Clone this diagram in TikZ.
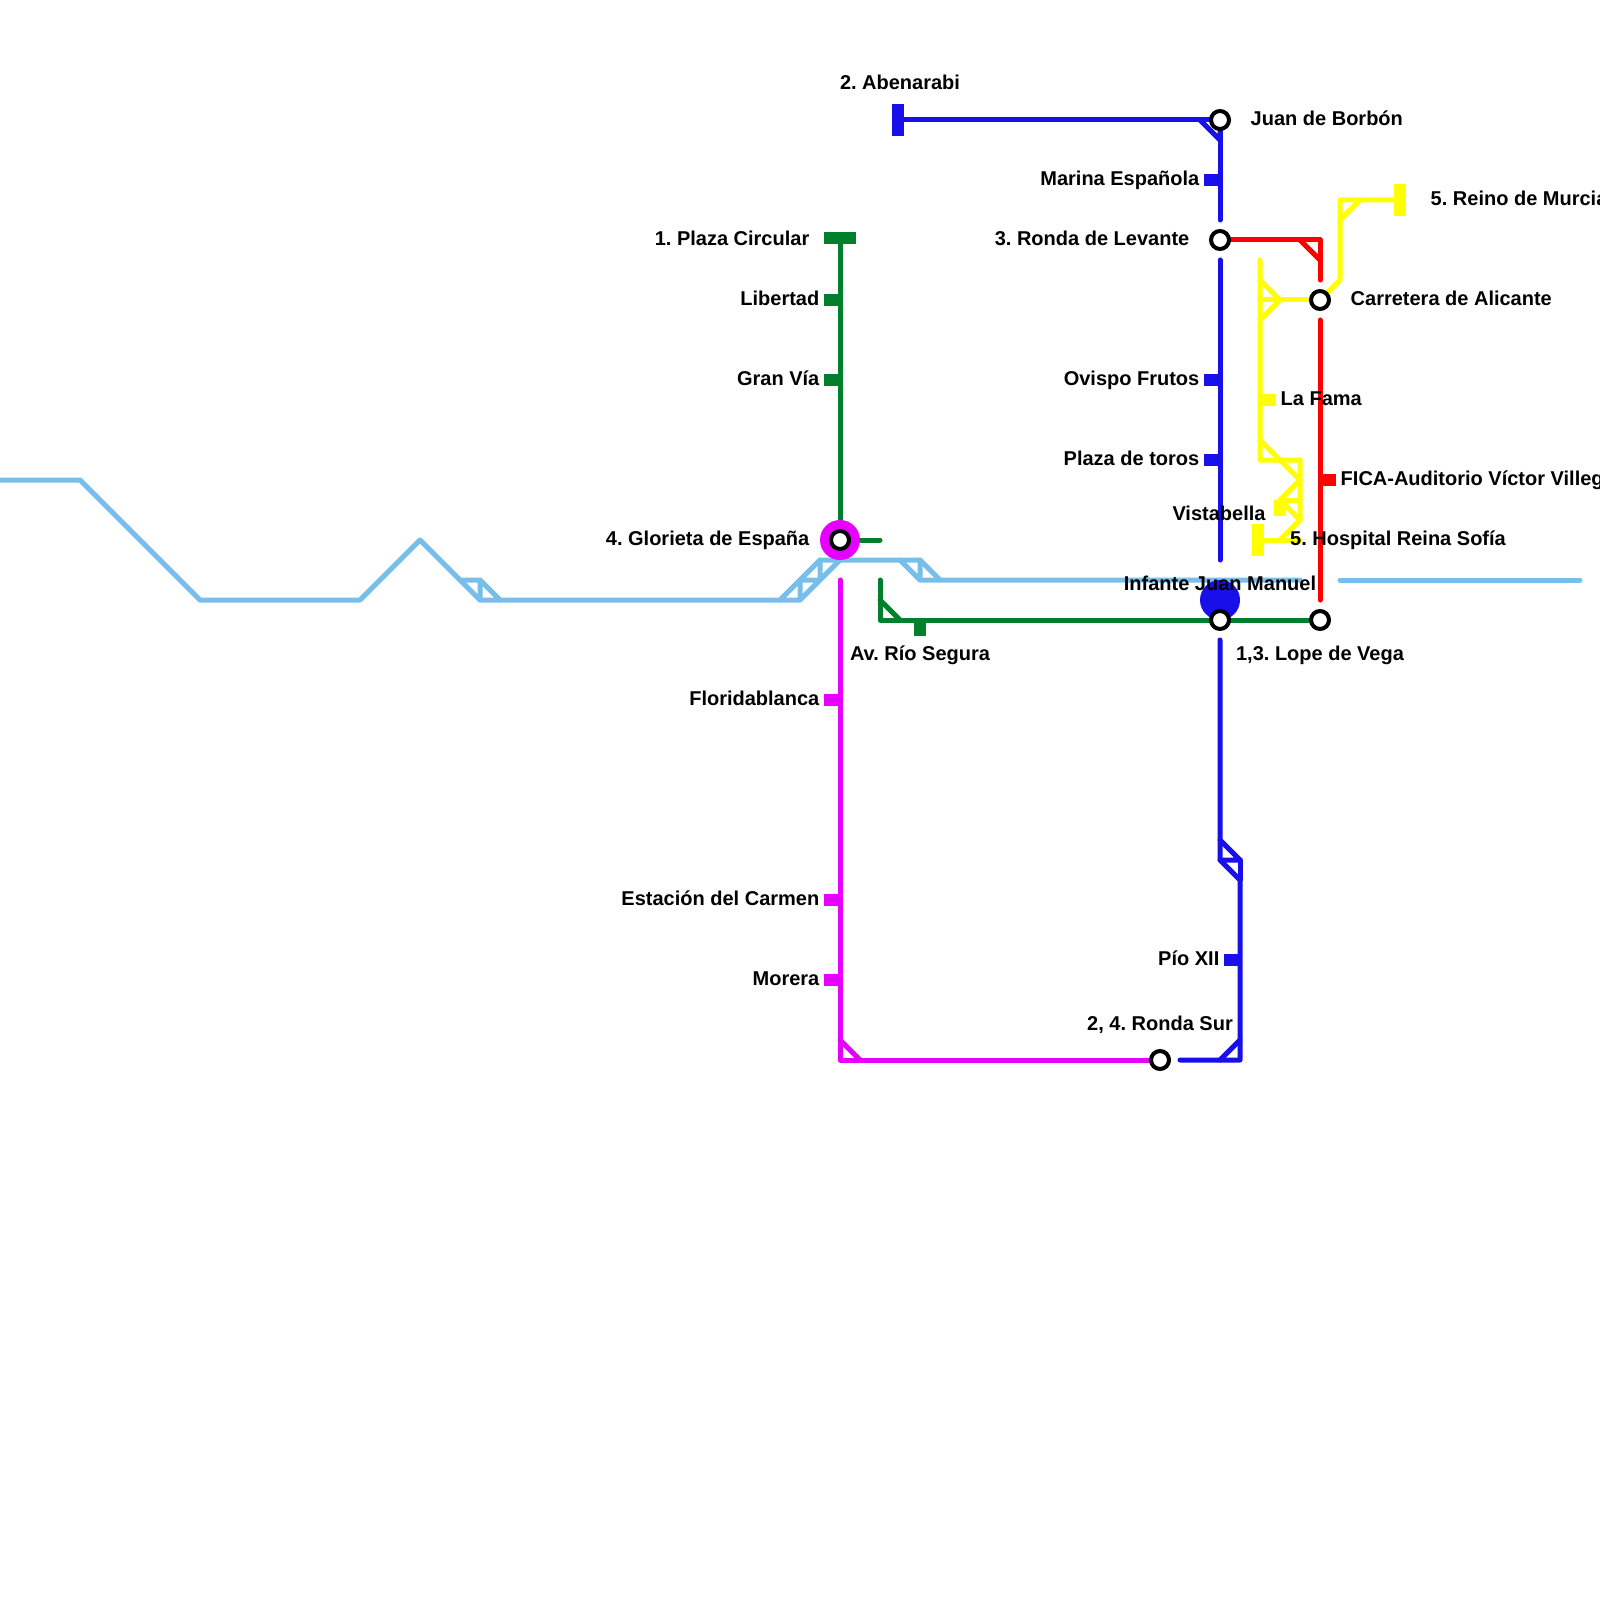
\documentclass[tikz,border=0pt]{standalone}
\usepackage{fontspec}
\setmainfont{Liberation Sans}
\usepackage{xcolor}
\usetikzlibrary{backgrounds}
\definecolor{lineblue}{RGB}{25, 15, 235}
\definecolor{linegreen}{RGB}{0, 128, 45}
\definecolor{linepink}{RGB}{230, 0, 255}
\definecolor{lineyellow}{RGB}{255, 255, 0}
\definecolor{linered}{RGB}{255, 0, 0}
\definecolor{linesky}{RGB}{120, 190, 235}

\begin{document}
\frenchspacing
\begin{tikzpicture}[x=2mm, y=-2mm, every node/.style={font=\fontsize{5.69}{7}\selectfont\bfseries}]
    % Styles
    \tikzstyle{stn} = [circle, draw=black, fill=white, line width=0.4mm, minimum size=1.8mm, inner sep=0]
    \tikzstyle{hub} = [circle, minimum size=4mm, inner sep=0]
    \tikzstyle{tab} = [rectangle, minimum width=1.6mm, minimum height=1.2mm, inner sep=0]
    \tikzstyle{drop} = [rectangle, minimum width=1.2mm, minimum height=1.6mm, inner sep=0]
    \tikzstyle{endv} = [rectangle, minimum width=1.2mm, minimum height=3.2mm, inner sep=0]
    \tikzstyle{endh} = [rectangle, minimum width=3.2mm, minimum height=1.2mm, inner sep=0]
    \tikzstyle{track} = [line width=0.5mm, line cap=round, line join=round]
    \tikzstyle{lbl} = [inner sep=0, text=black, text height=4.2pt, text depth=0pt]
    \useasboundingbox (0,0) rectangle (80,80);

    % Nodes
    \node [hub, fill=linepink] (gloriahub) at (42,27) {};
    \node [hub, fill=lineblue] (infantehub) at (61,30) {};
    \node [stn] (glorieta) at (42,27) {};
    \node [stn] (borbon) at (61,6) {};
    \node [stn] (levante) at (61,12) {};
    \node [stn] (alicante) at (66,15) {};
    \node [stn] (infante) at (61,31) {};
    \node [stn] (lope) at (66,31) {};
    \node [stn] (rondasur) at (58,53) {};
    \node [endv, fill=lineblue] (abenarabi) at (44.9,6) {};
    \node [endv, fill=lineyellow] (murcia) at (70,10) {};
    \node [endv, fill=lineyellow] (hospital) at (62.9,27) {};
    \node [endh, fill=linegreen] (plaza) at (42,11.9) {};
    \node [tab, fill=lineblue] (marina) at (60.6,9) {};
    \node [tab, fill=lineblue] (ovispo) at (60.6,19) {};
    \node [tab, fill=lineblue] (toros) at (60.6,23) {};
    \node [tab, fill=lineblue] (pio) at (61.6,48) {};
    \node [tab, fill=linegreen] (libertad) at (41.6,15) {};
    \node [tab, fill=linegreen] (granvia) at (41.6,19) {};
    \node [tab, fill=linepink] (florida) at (41.6,35) {};
    \node [tab, fill=linepink] (carmen) at (41.6,45) {};
    \node [tab, fill=linepink] (morera) at (41.6,49) {};
    \node [tab, fill=lineyellow] (fama) at (63.4,20) {};
    \node [tab, fill=linered] (fica) at (66.4,24) {};
    \node [drop, fill=lineyellow] (vista) at (64,25.4) {};
    \node [drop, fill=linegreen] (segura) at (46,31.4) {};

    % Labels
    \node [lbl] (tabenarabi) at (45,4.1) {2. Abenarabi};
    \node [lbl, anchor=west] (tborbon) at (62.5,5.9) {Juan de Borbón};
    \node [lbl, anchor=east] (tmarina) at (60,8.9) {Marina Española};
    \node [lbl, anchor=east] (tplaza) at (40.5,11.9) {1. Plaza Circular};
    \node [lbl, anchor=east] (tlevante) at (59.5,11.9) {3. Ronda de Levante};
    \node [lbl, anchor=west] (tmurcia) at (71.5,9.9) {5. Reino de Murcia};
    \node [lbl, anchor=east] (tlibertad) at (41,14.9) {Libertad};
    \node [lbl, anchor=west] (talicante) at (67.5,14.9) {Carretera de Alicante};
    \node [lbl, anchor=east] (tgranvia) at (41,18.9) {Gran Vía};
    \node [lbl, anchor=east] (tovispo) at (60,18.9) {Ovispo Frutos};
    \node [lbl, anchor=west] (tfama) at (64,19.9) {La Fama};
    \node [lbl, anchor=east] (ttoros) at (60,22.9) {Plaza de toros};
    \node [lbl, anchor=west] (tfica) at (67,23.9) {FICA-Auditorio Víctor Villegas};
    \node [lbl] (tvista) at (60.95,25.65) {Vistabella};
    \node [lbl] (thospital) at (69.9,26.9) {5. Hospital Reina Sofía};
    \node [lbl, anchor=east] (tglorieta) at (40.5,26.9) {4. Glorieta de España};
    \node [lbl] (tinfante) at (61,29.15) {Infante Juan Manuel};
    \node [lbl] (tsegura) at (46,32.65) {Av. Río Segura};
    \node [lbl] (tlope) at (66,32.65) {1,3. Lope de Vega};
    \node [lbl, anchor=east] (tflorida) at (41,34.9) {Floridablanca};
    \node [lbl, anchor=east] (tcarmen) at (41,44.9) {Estación del Carmen};
    \node [lbl, anchor=east] (tmorera) at (41,48.9) {Morera};
    \node [lbl, anchor=east] (tpio) at (61,47.9) {Pío XII};
    \node [lbl] (trondasur) at (58,51.15) {2, 4. Ronda Sur};

    % Lines
    \begin{scope}[on background layer]
    \draw [track, linesky] (0,24) -- (4,24) -- (10,30) -- (18,30) -- (21,27) -- (24,30) -- (39,30) -- (41,28) -- (46,28) -- (47,29) -- (65,29);
    \draw [track, linesky] (23,29) -- (24,29) -- (25,30) (24,29) -- (24,30);
    \draw [track, linesky] (39,30) -- (40,30) -- (42,28) (40,29) -- (40,30) (40,29) -- (41,29) (41,28) -- (41,29);
    \draw [track, linesky] (45,28) -- (46,29) -- (47,29) (46,28) -- (46,29);
    \draw [track, linesky] (67,29) -- (79,29);

    \draw [track, lineblue] (abenarabi) -- (borbon);
    \draw [track, lineblue] (60,6) -- (61,7) -- (borbon);
    \draw [track, lineblue] (borbon) -- (61,11);
    \draw [track, lineblue] (61,13) -- (61,28);
    \draw [track, lineblue] (61,32) -- (61,43) -- (62,44) -- (62,53) -- (59,53);
    \draw [track, lineblue] (61,42) -- (62,43) -- (61,43);
    \draw [track, lineblue] (62,43) -- (62,44);
    \draw [track, lineblue] (61,53) -- (62,52);

    \draw [track, linered] (levante) -- (66,12) -- (66,14);
    \draw [track, linered] (65,12) -- (66,13);
    \draw [track, linered] (66,16) -- (66,30);

    \draw [track, lineyellow] (alicante) -- (67,14) -- (67,10) -- (murcia);
    \draw [track, lineyellow] (67,11) -- (68,10);
    \draw [track, lineyellow] (alicante) -- (63,15);
    \draw [track, lineyellow] (63,14) -- (64,15) -- (63,16);
    \draw [track, lineyellow] (63,13) -- (63,23) -- (65,23) -- (65,26) -- (64,27);
    \draw [track, lineyellow] (63,22) -- (65,24) -- (64,25) -- (65,26);
    \draw [track, lineyellow] (64,25) -- (65,25);
    \draw [track, lineyellow] (hospital) -- (65,27);

    \draw [track, linegreen] (plaza) -- (42,26);
    \draw [track, linegreen] (gloriahub) -- (44,27);
    \draw [track, linegreen] (44,29) -- (44,31) -- (infante);
    \draw [track, linegreen] (44,30) -- (45,31);
    \draw [track, linegreen] (infante) -- (lope);

    \draw [track, linepink] (42,29) -- (42,53) -- (rondasur);
    \draw [track, linepink] (42,52) -- (43,53);
    \end{scope}
\end{tikzpicture}
\end{document}
